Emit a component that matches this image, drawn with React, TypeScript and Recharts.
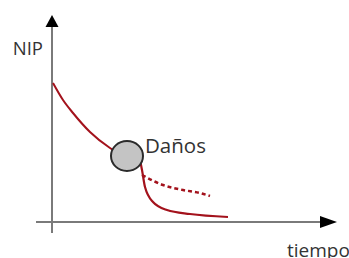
import { LineChart, Line, XAxis, YAxis, ReferenceLine, ReferenceDot } from "recharts";

// curve before the damage event (tiempo, NIP)
const beforeDamage = [
  { t: 1, nip: 139 },
  { t: 11, nip: 122 },
  { t: 21, nip: 109 },
  { t: 38, nip: 90 },
  { t: 58, nip: 74 },
  { t: 68, nip: 68 },
];

// actual drop after damage
const afterDamage = [
  { t: 88, nip: 62 },
  { t: 90, nip: 52 },
  { t: 93, nip: 35 },
  { t: 101, nip: 20 },
  { t: 115, nip: 12 },
  { t: 138, nip: 8 },
  { t: 176, nip: 5 },
];

// expected path without damage (dashed)
const withoutDamage = [
  { t: 90, nip: 47 },
  { t: 111, nip: 37 },
  { t: 131, nip: 32 },
  { t: 148, nip: 29 },
  { t: 158, nip: 26 },
];

const damagePoint = { t: 75, nip: 66, label: "Daños" };
const yLabel = "NIP";
const xLabel = "tiempo";

const RED = "#a3121c";
const AXIS = "#7a7a7a";
const TEXT = "#333";
const FONT = "'Open Sans', sans-serif";

const UpArrow = ({ cx, cy }: any) => (
  <path d={`M${cx},${cy} L${cx - 6.5},${cy + 12} L${cx + 6.5},${cy + 12} Z`} fill="#000" />
);

const RightArrow = ({ cx, cy }: any) => (
  <path d={`M${cx},${cy} L${cx - 17},${cy - 6} L${cx - 17},${cy + 6} Z`} fill="#000" />
);

const App = () => {
  return (
    <div style={{ position: "absolute", left: 0, top: 0, background: "#fff" }}>
      <LineChart
        width={349}
        height={258}
        margin={{ top: 15, right: 12, bottom: 25, left: 36 }}
      >
        <XAxis type="number" dataKey="t" domain={[-16, 285]} allowDataOverflow hide />
        <YAxis type="number" dataKey="nip" domain={[-11, 207]} allowDataOverflow hide />

        <ReferenceLine
          segment={[{ x: 0, y: -11 }, { x: 0, y: 196 }]}
          stroke={AXIS}
          strokeWidth={2}
        />
        <ReferenceLine
          segment={[{ x: -16, y: 0 }, { x: 270, y: 0 }]}
          stroke={AXIS}
          strokeWidth={2}
        />

        <Line
          data={beforeDamage}
          dataKey="nip"
          type="monotone"
          stroke={RED}
          strokeWidth={2}
          dot={false}
          isAnimationActive={false}
        />
        <Line
          data={afterDamage}
          dataKey="nip"
          type="monotone"
          stroke={RED}
          strokeWidth={2.2}
          dot={false}
          isAnimationActive={false}
        />
        <Line
          data={withoutDamage}
          dataKey="nip"
          type="monotone"
          stroke={RED}
          strokeWidth={2.5}
          strokeDasharray="4 3"
          dot={false}
          isAnimationActive={false}
        />

        <ReferenceDot x={0} y={207} shape={UpArrow} />
        <ReferenceDot x={285} y={0} shape={RightArrow} />

        <ReferenceDot
          x={damagePoint.t}
          y={damagePoint.nip}
          shape={({ cx, cy }: any) => (
            <g>
              <ellipse cx={cx} cy={cy} rx={16} ry={15} fill="#c4c4c4" stroke="#2b2b2b" strokeWidth={2} />
              <text x={cx + 18} y={cy - 3} fontSize={20.5} fill={TEXT} fontFamily={FONT}>
                {damagePoint.label}
              </text>
            </g>
          )}
        />

        <ReferenceDot
          x={0}
          y={174}
          shape={({ cx, cy }: any) => (
            <text x={cx - 9} y={cy + 7} textAnchor="end" fontSize={18.5} fill={TEXT} fontFamily={FONT}>
              {yLabel}
            </text>
          )}
        />
        <ReferenceDot
          x={285}
          y={0}
          shape={({ cx, cy }: any) => (
            <text x={cx - 50} y={cy + 35} fontSize={19} fill={TEXT} fontFamily={FONT}>
              {xLabel}
            </text>
          )}
        />
      </LineChart>
    </div>
  );
};

export default App;
